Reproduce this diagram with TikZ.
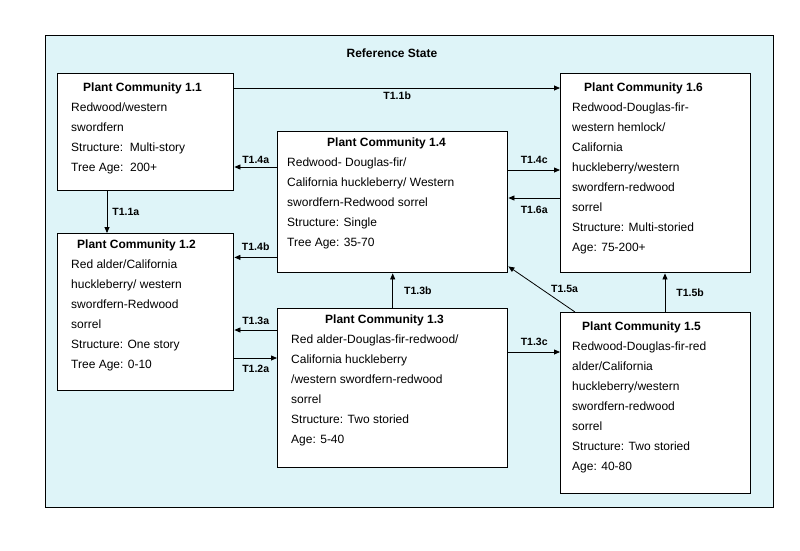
\documentclass[tikz,border=0pt]{standalone}
\usepackage{fontspec}
\setmainfont{Liberation Sans}
\usetikzlibrary{arrows.meta,positioning}
\definecolor{stateblue}{RGB}{222,244,248}
\begin{document}
\begin{tikzpicture}[x=1pt,y=-1pt,font=\fontsize{12}{20}\selectfont]
  \tikzstyle{pcbox} = [draw=black, line width=1.4pt, fill=white, anchor=north west, inner sep=0pt];
  \tikzstyle{pctext} = [anchor=north west, align=left, inner sep=0pt];
  \tikzstyle{trans} = [-{Triangle[length=6pt,width=5pt]}, line width=0.8pt];
  \tikzstyle{tlabel} = [font=\fontsize{10.5}{12}\selectfont\bfseries, inner sep=1pt];

  \useasboundingbox (0,0) rectangle (800,550);
  \node[draw=black, line width=1.4pt, fill=stateblue, anchor=north west, minimum width=728pt, minimum height=472pt, inner sep=0pt](ref) at (45,35) {};
  \node[tlabel, font=\fontsize{12}{12}\selectfont\bfseries](title) at (392,53) {Reference State};

  % plant community boxes
  \node[pcbox, minimum width=176pt, minimum height=117pt](P11) at (57,73) {};
  \node[pcbox, minimum width=190pt, minimum height=199pt](P16) at (560,73) {};
  \node[pcbox, minimum width=230pt, minimum height=141pt](P14) at (277,131) {};
  \node[pcbox, minimum width=176pt, minimum height=157pt](P12) at (57,233) {};
  \node[pcbox, minimum width=230pt, minimum height=159pt](P13) at (277,308) {};
  \node[pcbox, minimum width=190pt, minimum height=181pt](P15) at (560,312) {};

  \node[pctext] at ([shift={(14pt,-10pt)}]P11.north west) {\textbf{\hspace*{12pt}Plant Community 1.1}\\Redwood/western\\swordfern\\Structure:\ \ Multi-story\\Tree Age:\ \ 200+};
  \node[pctext] at ([shift={(12pt,-10pt)}]P16.north west) {\textbf{\hspace*{12pt}Plant Community 1.6}\\Redwood-Douglas-fir-\\western hemlock/\\California\\huckleberry/western\\swordfern-redwood\\sorrel\\Structure: Multi-storied\\Age: 75-200+};
  \node[pctext] at ([shift={(10pt,-7pt)}]P14.north west) {\textbf{\hspace*{40pt}Plant Community 1.4}\\Redwood- Douglas-fir/\\California huckleberry/ Western\\swordfern-Redwood sorrel\\Structure: Single\\Tree Age: 35-70};
  \node[pctext] at ([shift={(14pt,-7pt)}]P12.north west) {\textbf{\hspace*{6pt}Plant Community 1.2}\\Red alder/California\\huckleberry/ western\\swordfern-Redwood\\sorrel\\Structure: One story\\Tree Age: 0-10};
  \node[pctext] at ([shift={(14pt,-7pt)}]P13.north west) {\textbf{\hspace*{34pt}Plant Community 1.3}\\Red alder-Douglas-fir-redwood/\\California huckleberry\\/western swordfern-redwood\\sorrel\\Structure: Two storied\\Age: 5-40};
  \node[pctext] at ([shift={(12pt,-10pt)}]P15.north west) {\textbf{\hspace*{10pt}Plant Community 1.5}\\Redwood-Douglas-fir-red\\alder/California\\huckleberry/western\\swordfern-redwood\\sorrel\\Structure: Two storied\\Age: 40-80};

  % transitions
  \draw[trans] ([yshift=-15pt]P11.north east) -- node[tlabel, below=2pt]{T1.1b} ([yshift=-15pt]P11.north east -| P16.west);
  \draw[trans] ([yshift=-36pt]P14.north west) -- node[tlabel, above=2pt]{T1.4a} ([yshift=-36pt]P14.north west -| P11.east);
  \draw[trans] ([xshift=50pt]P11.south west) -- node[tlabel, right=4pt]{T1.1a} ([xshift=50pt]P12.north west);
  \draw[trans] ([yshift=16pt]P14.south west) -- node[tlabel, above=5pt]{T1.4b} ([yshift=16pt]P14.south west -| P12.east);
  \draw[trans] ([yshift=-39pt]P14.north east) -- node[tlabel, above=5pt]{T1.4c} ([yshift=-39pt]P14.north east -| P16.west);
  \draw[trans] ([yshift=-125pt]P16.north west) -- node[tlabel, below=7pt]{T1.6a} ([yshift=-125pt]P16.north west -| P14.east);
  \draw[trans] (P13.north) -- node[tlabel, right=10pt]{T1.3b} (P14.south);
  \draw[trans] ([xshift=15pt]P15.north west) -- node[tlabel, right=8pt]{T1.5a} ([yshift=7pt]P14.south east);
  \draw[trans] ([xshift=105pt]P15.north west) -- node[tlabel, right=10pt]{T1.5b} ([xshift=105pt]P16.south west);
  \draw[trans] ([yshift=-22pt]P13.north west) -- node[tlabel, above=4pt]{T1.3a} ([yshift=-22pt]P13.north west -| P12.east);
  \draw[trans] ([yshift=-125pt]P12.north east) -- node[tlabel, below=6pt]{T1.2a} ([yshift=-125pt]P12.north east -| P13.west);
  \draw[trans] ([yshift=-44pt]P13.north east) -- node[tlabel, above=5pt]{T1.3c} ([yshift=-44pt]P13.north east -| P15.west);
\end{tikzpicture}
\end{document}
